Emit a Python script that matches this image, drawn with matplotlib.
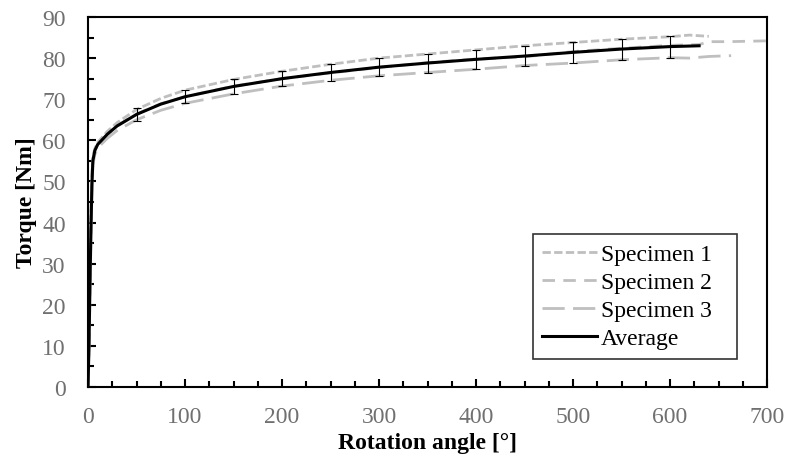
import matplotlib
matplotlib.use("Agg")
import matplotlib.pyplot as plt
from matplotlib.ticker import MultipleLocator

plt.rcParams['font.family'] = ['Liberation Serif', 'DejaVu Serif']

# Specimen 1
s1_x = [0, 1, 2, 3, 4, 5, 7, 10, 20, 30, 50, 75, 100, 150, 200, 250, 300, 350, 400, 450, 500, 550, 600, 620, 640]
s1_y = [0, 12, 28, 42, 52, 56, 58, 59.5, 62.2, 64.3, 67.5, 70.2, 72.2, 74.8, 76.8, 78.5, 80, 81, 82, 83, 83.8, 84.6, 85.2, 85.6, 85.3]
# Specimen 2
s2_x = [0, 1, 2, 3, 4, 5, 7, 10, 20, 30, 50, 75, 100, 150, 200, 250, 300, 350, 400, 450, 500, 550, 600, 630, 640, 660, 700]
s2_y = [0, 10, 25, 38, 49, 55, 57.5, 59, 61.5, 63.5, 66.4, 68.9, 70.6, 73.2, 75, 76.4, 77.7, 78.9, 79.8, 80.3, 81.6, 82.4, 83.1, 83.3, 84.0, 84.0, 84.2]
# Specimen 3
s3_x = [0, 1, 2, 3, 4, 5, 7, 10, 20, 30, 50, 75, 100, 150, 200, 250, 300, 350, 400, 450, 500, 550, 600, 620, 640, 663]
s3_y = [0, 8, 22, 35, 47, 54, 56.5, 58.2, 60.5, 62.4, 65, 67.3, 69, 71.3, 73.2, 74.6, 75.7, 76.5, 77.3, 78.2, 78.8, 79.6, 80.1, 80.0, 80.4, 80.6]
# Average
avg_x = [0, 1, 2, 3, 4, 5, 7, 10, 20, 30, 50, 75, 100, 150, 200, 250, 300, 350, 400, 450, 500, 550, 600, 630]
avg_y = [0, 10, 25, 38, 49, 55, 57.5, 59, 61.5, 63.5, 66.3, 68.8, 70.6, 73.1, 75, 76.5, 77.8, 78.8, 79.7, 80.5, 81.4, 82.2, 82.8, 83]
# Error bars on the average
err_x = [50, 100, 150, 200, 250, 300, 350, 400, 450, 500, 550, 600]
err_y = [66.3, 70.6, 73.1, 75, 76.5, 77.8, 78.8, 79.7, 80.5, 81.4, 82.2, 82.8]
err_e = [1.5, 1.6, 1.8, 1.85, 2.0, 2.2, 2.3, 2.35, 2.4, 2.6, 2.55, 2.7]

fig = plt.figure(figsize=(7.95, 4.64), dpi=100)
ax = fig.add_axes([0.1107, 0.1638, 0.8541, 0.7974])

gray = '#BFBFBF'
ax.plot(s1_x, s1_y, color=gray, lw=2.0, dashes=(3, 1.2), label='Specimen 1')
ax.plot(s2_x, s2_y, color=gray, lw=2.0, dashes=(4.5, 3), label='Specimen 2')
ax.plot(s3_x, s3_y, color=gray, lw=2.0, dashes=(8, 3), label='Specimen 3')
ax.plot(avg_x, avg_y, color='black', lw=2.2, label='Average')
ax.errorbar(err_x, err_y, yerr=err_e, fmt='none', ecolor='black', elinewidth=0.8, capsize=3, capthick=0.8)

ax.set_xlim(0, 700)
ax.set_ylim(0, 90)
ax.xaxis.set_major_locator(MultipleLocator(100))
ax.xaxis.set_minor_locator(MultipleLocator(25))
ax.yaxis.set_major_locator(MultipleLocator(10))
ax.yaxis.set_minor_locator(MultipleLocator(5))
ax.tick_params(which='major', direction='in', length=6, width=1.5, labelsize=17, labelcolor='#707070')
ax.tick_params(axis='x', which='major', pad=14)
ax.tick_params(axis='y', which='major', pad=16)
ax.tick_params(which='minor', direction='in', length=4, width=1.5)
for s in ax.spines.values():
    s.set_linewidth(1.5)

ax.set_xlabel('Rotation angle [°]', fontsize=17, fontweight='bold', labelpad=3)
ax.set_ylabel('Torque [Nm]', fontsize=17, fontweight='bold', labelpad=4)

leg = ax.legend(loc='upper left', bbox_to_anchor=(0.655, 0.4135, 0.301, 0.0), mode='expand',
                fontsize=17, frameon=True, fancybox=False, edgecolor='black',
                handlelength=2.3, handletextpad=0.2, borderpad=0.4, labelspacing=0.28,
                borderaxespad=0.0)
leg.get_frame().set_linewidth(1.2)

fig.savefig('out.png', dpi=100)
